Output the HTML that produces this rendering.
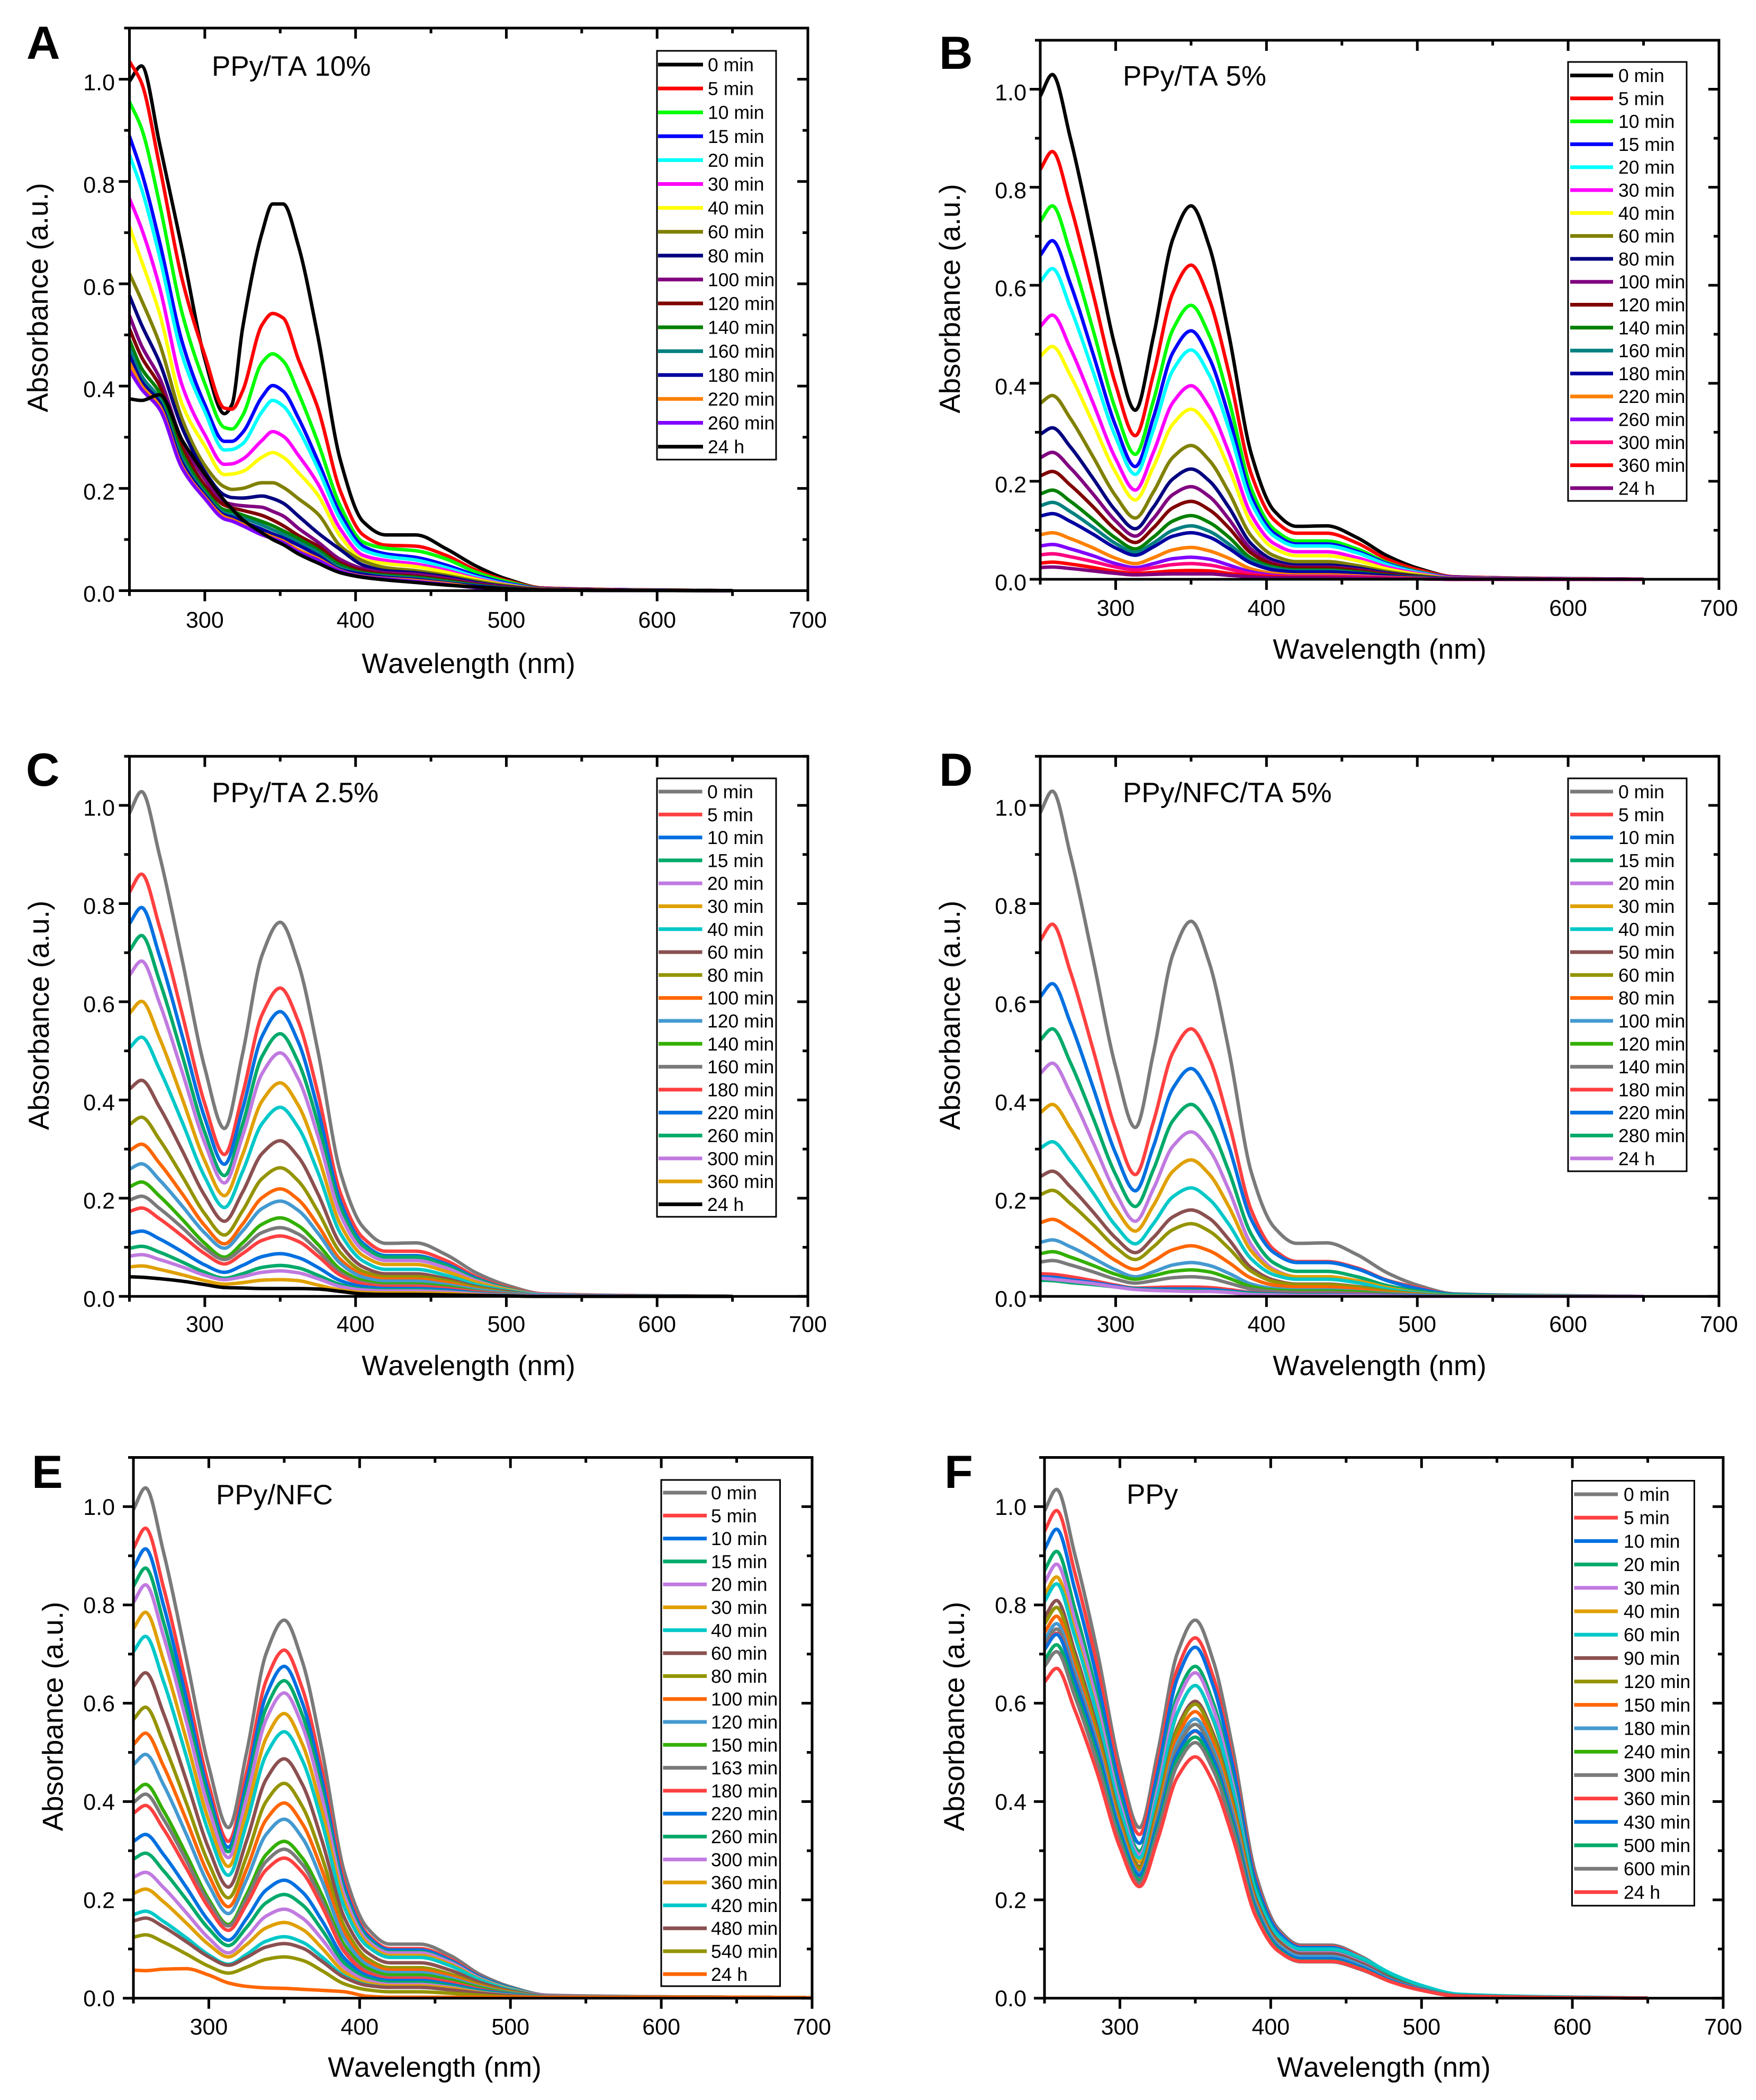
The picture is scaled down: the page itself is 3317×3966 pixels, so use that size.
<!DOCTYPE html>
<html lang="en">
<head>
<meta charset="utf-8">
<title>Absorbance spectra panels A-F</title>
<style>
html,body{margin:0;padding:0;background:#fff;}
svg{display:block;font-family:"Liberation Sans",Arial,sans-serif;font-kerning:none;text-rendering:geometricPrecision;}
</style>
</head>
<body>
<svg id="figure" xmlns="http://www.w3.org/2000/svg" width="3317" height="3966" viewBox="0 0 3317 3966">
<rect x="0" y="0" width="3317" height="3966" fill="#fff"/>
</svg>
<script>
const wavelengths=[250,258,270,285,300,313,325,338,350,362,375,390,405,420,440,460,480,500,525,650];
const wavelengthsA=[250,258,270,285,300,313,318,325,338,345,352,362,375,390,405,420,440,460,480,500,525,650];
const wavelengthsE=[250,258,270,285,300,313,325,338,350,362,375,390,405,420,440,460,480,500,525,650,700];
const xTickValues=[250,300,350,400,450,500,550,600,650,700];
const xTickLabels=[300,400,500,600,700];
const yTickValues=[0,0.1,0.2,0.3,0.4,0.5,0.6,0.7,0.8,0.9,1.0,1.1];
const yTickLabels=[0,0.2,0.4,0.6,0.8,1.0];

const labelsA=["0 min","5 min","10 min","15 min","20 min","30 min","40 min","60 min","80 min","100 min","120 min","140 min","160 min","180 min","220 min","260 min","24 h"];
const seriesA=[
[.996,1.026,.874,.667,.453,.346,.364,.512,.70,.756,.756,.675,.497,.254,.135,.109,.109,.082,.048,.023,.005,0],
[1.035,.993,.83,.608,.46,.357,.355,.39,.52,.542,.533,.453,.357,.194,.109,.089,.087,.069,.04,.02,.005,0],
[.956,.904,.756,.542,.405,.319,.316,.342,.446,.463,.449,.387,.29,.165,.095,.083,.078,.062,.036,.018,.004,0],
[.889,.819,.682,.486,.364,.292,.292,.309,.379,.401,.39,.338,.254,.15,.087,.072,.065,.05,.03,.015,.004,0],
[.852,.786,.653,.46,.35,.275,.276,.287,.35,.372,.361,.316,.239,.139,.08,.067,.06,.045,.027,.013,.003,0],
[.767,.708,.593,.401,.305,.247,.248,.257,.294,.311,.302,.265,.209,.12,.069,.059,.052,.04,.024,.012,.003,0],
[.712,.645,.542,.364,.283,.227,.228,.233,.261,.27,.261,.231,.187,.106,.061,.053,.047,.036,.022,.011,.003,0],
[.62,.568,.483,.335,.245,.203,.198,.2,.211,.211,.202,.18,.15,.087,.058,.045,.039,.03,.019,.01,.003,0],
[.577,.52,.446,.318,.233,.187,.182,.181,.185,.18,.171,.146,.113,.08,.05,.039,.035,.027,.016,.008,.002,0],
[.538,.479,.416,.293,.218,.173,.169,.166,.163,.155,.146,.122,.095,.061,.043,.035,.032,.024,.014,.007,.002,0],
[.512,.457,.401,.28,.206,.167,.162,.157,.147,.138,.127,.108,.087,.054,.039,.032,.028,.021,.012,.006,.002,0],
[.49,.435,.387,.268,.197,.158,.155,.148,.135,.127,.117,.102,.08,.05,.035,.03,.026,.019,.011,.005,.001,0],
[.475,.42,.375,.258,.191,.152,.148,.142,.128,.119,.11,.095,.075,.045,.033,.028,.024,.017,.01,.005,.001,0],
[.46,.409,.368,.25,.187,.148,.144,.135,.12,.111,.103,.089,.069,.041,.032,.026,.022,.015,.009,.004,.001,0],
[.446,.401,.361,.243,.183,.144,.139,.13,.113,.105,.097,.08,.063,.039,.028,.024,.02,.014,.007,.003,.001,0],
[.431,.394,.355,.239,.18,.14,.136,.127,.109,.102,.094,.076,.06,.038,.027,.023,.018,.012,.006,.003,.001,0],
[.375,.372,.383,.294,.228,.176,.16,.139,.113,.1,.09,.072,.054,.035,.026,.021,.016,.011,.007,.004,.001,0]
];

const labelsB=["0 min","5 min","10 min","15 min","20 min","30 min","40 min","60 min","80 min","100 min","120 min","140 min","160 min","180 min","220 min","260 min","300 min","360 min","24 h"];
const seriesB=[
[.986,1.03,.90,.69,.47,.345,.495,.695,.762,.68,.50,.255,.14,.108,.109,.085,.048,.023,.005,0],
[.836,.873,.763,.583,.397,.293,.418,.585,.641,.571,.422,.214,.121,.094,.094,.074,.041,.02,.005,0],
[.730,.762,.666,.509,.346,.255,.364,.510,.559,.498,.367,.184,.102,.078,.078,.062,.034,.016,.004,0],
[.661,.691,.603,.46,.313,.23,.33,.463,.507,.452,.333,.168,.094,.072,.072,.057,.032,.015,.004,0],
[.607,.634,.554,.424,.29,.214,.305,.427,.468,.417,.308,.156,.088,.068,.068,.054,.03,.014,.003,0],
[.516,.539,.471,.36,.246,.182,.259,.361,.395,.352,.259,.131,.073,.056,.056,.044,.025,.012,.003,0],
[.455,.475,.416,.318,.218,.162,.229,.317,.347,.31,.227,.114,.063,.048,.048,.038,.021,.01,.002,0],
[.359,.375,.328,.25,.17,.125,.178,.249,.273,.243,.178,.088,.048,.036,.036,.028,.016,.008,.002,0],
[.296,.309,.27,.206,.14,.103,.147,.205,.225,.201,.147,.072,.039,.029,.029,.023,.013,.006,.001,0],
[.248,.259,.227,.174,.119,.088,.124,.173,.189,.169,.123,.061,.033,.025,.025,.02,.011,.005,.001,0],
[.211,.22,.192,.148,.101,.075,.105,.146,.159,.142,.105,.053,.03,.023,.023,.018,.01,.005,.001,0],
[.174,.182,.159,.122,.084,.062,.086,.119,.13,.116,.086,.043,.025,.019,.019,.015,.008,.004,.001,0],
[.15,.157,.138,.106,.073,.055,.074,.1,.109,.098,.072,.037,.022,.017,.017,.013,.007,.004,.001,0],
[.129,.134,.118,.092,.064,.049,.066,.088,.095,.086,.063,.033,.019,.015,.015,.012,.007,.003,.001,0],
[.091,.095,.083,.064,.043,.032,.044,.06,.065,.058,.043,.021,.012,.009,.009,.007,.004,.002,0,0],
[.068,.071,.062,.048,.032,.024,.032,.042,.045,.041,.029,.015,.008,.006,.006,.005,.003,.001,0,0],
[.05,.052,.046,.036,.025,.019,.024,.03,.032,.029,.021,.011,.006,.005,.005,.004,.002,.001,0,0],
[.033,.035,.031,.024,.016,.012,.014,.017,.018,.017,.012,.007,.005,.004,.004,.003,.002,.001,0,0],
[.024,.025,.022,.017,.012,.009,.01,.011,.011,.011,.008,.005,.003,.003,.003,.002,.001,.001,0,0]
];

const labelsC=["0 min","5 min","10 min","15 min","20 min","30 min","40 min","60 min","80 min","100 min","120 min","140 min","160 min","180 min","220 min","260 min","300 min","360 min","24 h"];
const seriesC=[
[.984,1.028,.898,.685,.465,.342,.493,.695,.762,.678,.50,.252,.141,.108,.109,.085,.048,.023,.005,0],
[.823,.86,.752,.575,.392,.289,.411,.574,.628,.56,.414,.21,.119,.092,.092,.073,.04,.019,.005,0],
[.759,.792,.693,.531,.363,.269,.381,.53,.58,.518,.381,.192,.108,.083,.083,.066,.037,.017,.004,0],
[.704,.735,.642,.491,.334,.246,.35,.489,.535,.477,.353,.18,.103,.08,.08,.063,.035,.017,.004,0],
[.654,.683,.597,.457,.312,.231,.326,.454,.496,.443,.327,.166,.094,.073,.073,.058,.032,.015,.004,0],
[.576,.601,.526,.403,.276,.205,.288,.398,.435,.389,.287,.146,.083,.065,.065,.051,.029,.014,.003,0],
[.506,.528,.462,.355,.243,.181,.254,.352,.385,.344,.253,.128,.072,.055,.055,.043,.024,.012,.003,0],
[.422,.44,.385,.297,.205,.153,.212,.291,.317,.284,.209,.106,.06,.046,.046,.036,.02,.01,.002,0],
[.35,.365,.319,.245,.168,.125,.174,.24,.262,.235,.173,.089,.051,.04,.04,.032,.018,.008,.002,0],
[.297,.31,.271,.209,.144,.107,.147,.201,.219,.197,.145,.075,.044,.035,.035,.028,.015,.007,.002,0],
[.259,.27,.237,.184,.129,.098,.133,.179,.194,.175,.129,.067,.039,.031,.031,.024,.014,.007,.002,0],
[.223,.233,.204,.157,.108,.08,.109,.147,.16,.144,.106,.055,.032,.025,.025,.02,.011,.005,.001,0],
[.196,.204,.179,.14,.098,.075,.098,.13,.14,.127,.093,.048,.028,.022,.022,.017,.01,.005,.001,0],
[.173,.18,.158,.123,.087,.066,.087,.114,.123,.112,.082,.043,.025,.02,.02,.016,.009,.004,.001,0],
[.128,.133,.117,.091,.064,.049,.063,.081,.087,.079,.059,.032,.02,.016,.016,.013,.007,.003,.001,0],
[.098,.102,.09,.07,.049,.037,.046,.059,.063,.058,.043,.024,.015,.013,.013,.01,.006,.003,.001,0],
[.082,.085,.075,.06,.043,.034,.04,.049,.052,.048,.036,.02,.013,.011,.011,.009,.005,.002,.001,0],
[.06,.062,.055,.044,.032,.025,.028,.033,.034,.032,.023,.013,.008,.007,.007,.006,.003,.001,0,0],
[.04,.039,.036,.031,.024,.018,.017,.016,.016,.016,.015,.01,.005,.004,.004,.003,.002,.001,0,0]
];

const labelsD=["0 min","5 min","10 min","15 min","20 min","30 min","40 min","50 min","60 min","80 min","100 min","120 min","140 min","180 min","220 min","280 min","24 h"];
const seriesD=[
[.985,1.029,.899,.687,.467,.344,.495,.697,.764,.68,.502,.252,.141,.108,.109,.085,.048,.023,.005,0],
[.725,.758,.661,.503,.34,.248,.355,.497,.545,.486,.355,.175,.095,.071,.071,.058,.033,.018,.004,0],
[.61,.637,.557,.426,.291,.215,.305,.424,.464,.414,.306,.156,.089,.069,.069,.056,.032,.016,.004,0],
[.522,.545,.476,.364,.248,.183,.258,.358,.391,.349,.255,.126,.068,.051,.051,.04,.022,.011,.003,0],
[.454,.475,.414,.314,.211,.153,.219,.306,.335,.299,.217,.105,.055,.04,.04,.032,.018,.008,.002,0],
[.374,.391,.342,.262,.179,.133,.185,.255,.278,.249,.183,.092,.052,.04,.04,.032,.018,.008,.002,0],
[.302,.315,.275,.211,.144,.107,.148,.203,.221,.198,.147,.076,.044,.035,.035,.028,.015,.007,.002,0],
[.244,.255,.223,.172,.119,.089,.12,.162,.176,.159,.116,.058,.033,.025,.025,.02,.011,.005,.001,0],
[.207,.216,.189,.146,.1,.075,.101,.136,.148,.133,.098,.051,.03,.024,.024,.019,.011,.005,.001,0],
[.15,.157,.138,.106,.073,.055,.072,.095,.103,.093,.069,.037,.023,.019,.019,.015,.008,.004,.001,0],
[.11,.115,.101,.078,.054,.04,.05,.064,.069,.063,.047,.025,.016,.013,.013,.01,.006,.003,.001,0],
[.087,.091,.08,.063,.045,.035,.042,.051,.054,.05,.037,.02,.013,.011,.011,.009,.005,.002,.001,0],
[.07,.073,.064,.05,.035,.027,.032,.038,.04,.037,.027,.015,.01,.008,.008,.006,.004,.002,0,0],
[.046,.045,.04,.032,.023,.017,.018,.019,.019,.018,.014,.008,.006,.005,.005,.004,.002,.001,0,0],
[.04,.039,.034,.028,.021,.016,.015,.015,.015,.014,.011,.007,.005,.004,.004,.003,.002,.001,0,0],
[.033,.032,.028,.024,.019,.015,.013,.012,.012,.011,.009,.006,.004,.003,.003,.002,.001,0,0,0],
[.037,.035,.031,.026,.019,.014,.012,.011,.01,.01,.008,.004,.003,.002,.002,.002,.001,0,0,0]
];

const labelsE=["0 min","5 min","10 min","15 min","20 min","30 min","40 min","60 min","80 min","100 min","120 min","150 min","163 min","180 min","220 min","260 min","300 min","360 min","420 min","480 min","540 min","24 h"];
const seriesE=[
[.994,1.038,.907,.693,.471,.347,.499,.701,.769,.685,.505,.255,.143,.11,.11,.087,.048,.023,.006,.002,.001],
[.915,.956,.835,.638,.434,.319,.459,.646,.708,.63,.465,.235,.131,.101,.101,.08,.044,.021,.005,.002,.001],
[.875,.914,.799,.61,.416,.307,.439,.616,.675,.601,.444,.225,.127,.098,.098,.077,.043,.021,.005,.002,.001],
[.838,.875,.765,.586,.402,.298,.423,.59,.646,.576,.425,.215,.122,.094,.094,.074,.041,.02,.005,.002,.001],
[.805,.841,.736,.564,.386,.286,.407,.567,.621,.554,.409,.208,.118,.092,.092,.073,.04,.019,.005,.002,.001],
[.752,.785,.687,.527,.361,.268,.38,.529,.579,.517,.382,.195,.112,.087,.087,.069,.038,.018,.004,.002,.001],
[.705,.736,.644,.493,.337,.25,.355,.495,.542,.484,.358,.184,.106,.083,.083,.066,.037,.017,.004,.002,.001],
[.634,.662,.579,.444,.304,.226,.32,.445,.487,.435,.321,.163,.093,.072,.072,.057,.032,.015,.004,.002,.001],
[.567,.592,.518,.398,.274,.204,.288,.4,.437,.39,.287,.145,.081,.062,.062,.049,.027,.013,.003,.002,.001],
[.516,.539,.472,.363,.25,.186,.262,.363,.397,.355,.261,.132,.074,.057,.057,.045,.025,.012,.003,.002,.001],
[.475,.496,.434,.334,.23,.172,.241,.333,.364,.326,.239,.121,.068,.052,.052,.041,.023,.011,.003,.002,.001],
[.417,.435,.381,.293,.201,.15,.211,.292,.319,.285,.21,.107,.061,.047,.047,.037,.021,.01,.002,.002,.001],
[.398,.415,.364,.281,.195,.147,.203,.278,.303,.272,.199,.099,.055,.042,.042,.033,.018,.009,.002,.002,.001],
[.376,.392,.344,.265,.184,.138,.191,.261,.285,.256,.187,.094,.052,.04,.04,.032,.018,.008,.002,.002,.001],
[.319,.333,.292,.226,.157,.118,.162,.22,.24,.216,.158,.081,.046,.036,.036,.028,.016,.008,.002,.002,.001],
[.283,.295,.259,.201,.141,.107,.144,.194,.211,.19,.139,.071,.041,.032,.032,.025,.014,.007,.002,.002,.001],
[.246,.256,.225,.174,.122,.092,.124,.167,.181,.163,.12,.062,.036,.028,.028,.022,.012,.006,.001,.002,.001],
[.213,.222,.196,.153,.109,.084,.109,.143,.154,.14,.102,.053,.031,.025,.025,.02,.011,.005,.001,.002,.001],
[.17,.177,.156,.123,.088,.069,.089,.116,.125,.114,.084,.045,.027,.022,.022,.017,.01,.005,.001,.002,.001],
[.157,.163,.145,.115,.084,.067,.083,.104,.111,.102,.075,.042,.026,.022,.022,.017,.01,.005,.001,.002,.001],
[.124,.129,.114,.09,.065,.051,.063,.079,.084,.077,.056,.029,.017,.013,.013,.01,.006,.003,.001,.002,.001],
[.057,.056,.059,.06,.047,.031,.024,.021,.02,.018,.016,.013,.004,.002,.002,.002,.002,.002,.002,.002,.001]
];

const labelsF=["0 min","5 min","10 min","20 min","30 min","40 min","60 min","90 min","120 min","150 min","180 min","240 min","300 min","360 min","430 min","500 min","600 min","24 h"];
const seriesF=[
[.991,1.035,.904,.705,.471,.347,.499,.701,.769,.685,.505,.253,.141,.108,.108,.085,.048,.023,.005,0],
[.95,.992,.867,.676,.452,.333,.477,.669,.733,.653,.482,.243,.136,.105,.105,.083,.046,.022,.005,0],
[.913,.954,.833,.647,.43,.315,.459,.65,.714,.634,.47,.237,.134,.103,.103,.081,.045,.022,.005,0],
[.87,.909,.793,.616,.409,.299,.434,.615,.675,.6,.444,.225,.127,.098,.098,.077,.043,.021,.005,0],
[.845,.883,.771,.599,.398,.292,.425,.603,.662,.588,.434,.217,.121,.092,.092,.073,.04,.019,.005,0],
[.82,.857,.747,.579,.381,.277,.406,.579,.636,.564,.418,.21,.117,.09,.09,.071,.04,.019,.005,0],
[.807,.843,.737,.575,.385,.285,.411,.58,.636,.566,.422,.218,.127,.1,.1,.082,.05,.026,.008,0],
[.774,.809,.706,.549,.365,.268,.389,.55,.604,.537,.398,.203,.116,.09,.09,.071,.04,.019,.005,0],
[.761,.795,.694,.541,.36,.265,.385,.545,.598,.531,.393,.198,.111,.085,.085,.067,.037,.018,.004,0],
[.744,.777,.678,.528,.351,.258,.375,.531,.583,.518,.384,.195,.11,.085,.085,.067,.037,.018,.004,0],
[.729,.762,.665,.518,.345,.254,.367,.518,.568,.505,.375,.191,.109,.085,.085,.067,.037,.018,.004,0],
[.711,.742,.649,.506,.339,.25,.361,.508,.557,.496,.366,.185,.104,.08,.08,.063,.035,.017,.004,0],
[.719,.751,.656,.51,.339,.249,.36,.508,.557,.495,.366,.185,.104,.08,.08,.063,.035,.017,.004,0],
[.71,.742,.648,.504,.336,.247,.354,.496,.543,.484,.357,.18,.101,.078,.078,.062,.034,.016,.004,0],
[.709,.74,.647,.505,.338,.25,.356,.497,.544,.485,.358,.182,.103,.08,.08,.063,.035,.017,.004,0],
[.688,.719,.628,.49,.327,.241,.345,.485,.531,.473,.349,.176,.099,.076,.076,.06,.033,.016,.004,0],
[.675,.705,.615,.479,.319,.234,.337,.474,.52,.463,.342,.172,.096,.074,.074,.058,.033,.016,.004,0],
[.643,.671,.587,.458,.307,.227,.322,.449,.491,.438,.325,.167,.096,.075,.075,.059,.033,.016,.004,0]
];

const classicPalette=["#000000","#ff0000","#00ff00","#0000ff","#00ffff","#ff00ff","#ffff00","#808000","#000080","#800080","#800000","#008000","#008080","#0000a0","#ff8000","#8000ff"];
const softPalette=["#7a7a7a","#ff4040","#0070e0","#00aa6a","#c07ae0","#e0a000","#00c8c8","#8b5050","#949400","#ff6600","#4499d0","#33b000"];
const colorsA=classicPalette.concat(["#000000"]);
const colorsB=classicPalette.concat(["#ff0080","#ff0000","#800080"]);
const softCycle=softPalette.concat(softPalette);
const colorsC=softCycle.slice(0,18).concat(["#000000"]);
const colorsD=softCycle.slice(0,17);
const colorsE=softCycle.slice(0,22);
const colorsF=softCycle.slice(0,16).concat(["#7a7a7a","#ff4040"]);

const panels=[
 {id:"a",letter:"A",lx:50,ly:111,title:"PPy/TA 10%",tx:400,ty:143,left:244.5,right:1526,bottom:1115.5,top:53,ylx:72,yly:562,xlc:885,xly:1271,ytr:217,ylOff:21,xlOff:70,
  wl:wavelengthsA,labels:labelsA,series:seriesA,colors:colorsA,box:[1241,96,1466,868],row0:122,rowH:45.1,lineX:[1243,1328],textX:1337},
 {id:"b",letter:"B",lx:1774,ly:130,title:"PPy/TA 5%",tx:2121,ty:161.5,left:1965,right:3247,bottom:1094,top:76,ylx:1795,yly:564,xlc:2606,xly:1244,ytr:1939,ylOff:21,xlOff:69,
  wl:wavelengths,labels:labelsB,series:seriesB,colors:colorsB,box:[2962,117,3186,946],row0:142.5,rowH:43.3,lineX:[2966,3047],textX:3057},
 {id:"c",letter:"C",lx:49,ly:1484,title:"PPy/TA 2.5%",tx:400,ty:1515,left:244.5,right:1526,bottom:2448.3,top:1428.3,ylx:74,yly:1917.5,xlc:885,xly:2597,ytr:217,ylOff:19.5,xlOff:67,
  wl:wavelengths,labels:labelsC,series:seriesC,colors:colorsC,box:[1241,1470,1466,2298],row0:1495,rowH:43.3,lineX:[1244,1326.5],textX:1336},
 {id:"d",letter:"D",lx:1774,ly:1484,title:"PPy/NFC/TA 5%",tx:2121,ty:1515,left:1965,right:3247,bottom:2448.3,top:1428.3,ylx:1795,yly:1917.5,xlc:2606,xly:2597,ytr:1939,ylOff:19.5,xlOff:67,
  wl:wavelengths,labels:labelsD,series:seriesD,colors:colorsD,box:[2962,1470,3186,2212],row0:1495,rowH:43.3,lineX:[2966,3047],textX:3057},
 {id:"e",letter:"E",lx:60,ly:2810,title:"PPy/NFC",tx:408,ty:2841,left:252,right:1534,bottom:3773.7,top:2752.5,ylx:100.5,yly:3241.6,xlc:821,xly:3922,ytr:217,ylOff:15.5,xlOff:69,
  wl:wavelengthsE,labels:labelsE,series:seriesE,colors:colorsE,box:[1249,2795,1473.5,3751],row0:2819,rowH:43.3,lineX:[1252.4,1335],textX:1343},
 {id:"f",letter:"F",lx:1784,ly:2810,title:"PPy",tx:2128,ty:2840,left:1973,right:3255,bottom:3773.7,top:2752.5,ylx:1803,yly:3241.6,xlc:2614,xly:3922,ytr:1939,ylOff:15.5,xlOff:69,
  wl:wavelengths,labels:labelsF,series:seriesF,colors:colorsF,box:[2969.5,2796.5,3200.5,3599],row0:2822,rowH:44.2,lineX:[2973.5,3056],textX:3067}
];

const NS="http://www.w3.org/2000/svg";
const root=document.getElementById("figure");

function makeEl(tag,attrs,parent){
  const el=document.createElementNS(NS,tag);
  for(const k in attrs){el.setAttribute(k,attrs[k]);}
  parent.appendChild(el);
  return el;
}
function fmt(n){return Math.round(n*100)/100;}

/* monotone cubic path through mapped points */
function monotonePath(xs,ys){
  const n=xs.length,dx=[],m=[],t=[];
  for(let i=0;i<n-1;i++){dx[i]=xs[i+1]-xs[i];m[i]=(ys[i+1]-ys[i])/dx[i];}
  t[0]=m[0];t[n-1]=m[n-2];
  for(let i=1;i<n-1;i++){
    if(m[i-1]*m[i]<=0){t[i]=0;}
    else{
      const w1=2*dx[i]+dx[i-1],w2=dx[i]+2*dx[i-1];
      t[i]=(w1+w2)/(w1/m[i-1]+w2/m[i]);
    }
  }
  let d="M"+fmt(xs[0])+" "+fmt(ys[0]);
  for(let i=0;i<n-1;i++){
    const h=dx[i]/3;
    d+="C"+fmt(xs[i]+h)+" "+fmt(ys[i]+t[i]*h)+" "+fmt(xs[i+1]-h)+" "+fmt(ys[i+1]-t[i+1]*h)+" "+fmt(xs[i+1])+" "+fmt(ys[i+1]);
  }
  return d;
}

panels.forEach(function(p){
  const xScale=function(v){return p.left+(v-250)*(p.right-p.left)/450;};
  const yScale=function(v){return p.bottom-v*(p.bottom-p.top)/1.1;};

  const g=makeEl("g",{},root);
  
  

  /* curves */
  const curves=makeEl("g",{fill:"none","stroke-width":"6.5","stroke-linejoin":"round","stroke-linecap":"butt"},g);
  
  
  p.series.forEach(function(vals,i){
    const xs=p.wl.map(xScale);
    const ys=vals.map(yScale);
    const path=makeEl("path",{d:monotonePath(xs,ys),stroke:p.colors[i]},curves);
    
    
  });

  /* frame */
  const frame=makeEl("rect",{x:p.left,y:p.top,width:p.right-p.left,height:p.bottom-p.top,fill:"none",stroke:"#000","stroke-width":"5"},g);
  
  

  /* x ticks */
  xTickValues.forEach(function(v){
    const major=(v%100===0);
    const len=major?20:10;
    const x=xScale(v);
    const b=makeEl("line",{x1:x,x2:x,y1:p.bottom,y2:p.bottom+len,stroke:"#000","stroke-width":"5"},g);
    
    
    const t=makeEl("line",{x1:x,x2:x,y1:p.top,y2:p.top+len,stroke:"#000","stroke-width":"5"},g);
    
    
  });
  xTickLabels.forEach(function(v){
    const t=makeEl("text",{x:xScale(v),y:p.bottom+p.xlOff,"font-size":"43","text-anchor":"middle",fill:"#000"},g);
    t.textContent=String(v);
    
    
  });

  /* y ticks */
  yTickValues.forEach(function(v,i){
    const major=(i%2===0);
    const len=major?20:10;
    const y=yScale(v);
    const l=makeEl("line",{x1:p.left-len,x2:p.left,y1:y,y2:y,stroke:"#000","stroke-width":"5"},g);
    
    
    const r=makeEl("line",{x1:p.right-len,x2:p.right,y1:y,y2:y,stroke:"#000","stroke-width":"5"},g);
    
    
  });
  yTickLabels.forEach(function(v){
    const t=makeEl("text",{x:p.ytr,y:yScale(v)+p.ylOff,"font-size":"43","text-anchor":"end",fill:"#000"},g);
    t.textContent=v.toFixed(1);
    
    
  });

  /* axis titles */
  const xt=makeEl("text",{x:p.xlc,y:p.xly,"font-size":"53","text-anchor":"middle",fill:"#000"},g);
  xt.textContent="Wavelength (nm)";
  
  
  const yt=makeEl("text",{transform:"translate("+(p.ylx+18)+" "+p.yly+") rotate(-90)","font-size":"54.5","text-anchor":"middle",fill:"#000"},g);
  yt.textContent="Absorbance (a.u.)";
  
  

  /* panel letter + title */
  const letter=makeEl("text",{x:p.lx,y:p.ly,"font-size":"88","font-weight":"700",fill:"#000"},g);
  letter.textContent=p.letter;
  
  
  const title=makeEl("text",{x:p.tx,y:p.ty,"font-size":"53",fill:"#000"},g);
  title.textContent=p.title;
  
  

  /* legend */
  const leg=makeEl("g",{},g);
  
  
  const box=makeEl("rect",{x:p.box[0],y:p.box[1],width:p.box[2]-p.box[0],height:p.box[3]-p.box[1],fill:"#fff",stroke:"#000","stroke-width":"3"},leg);
  
  
  p.labels.forEach(function(lab,i){
    const y=p.row0+i*p.rowH;
    const sw=makeEl("line",{x1:p.lineX[0],x2:p.lineX[1],y1:y,y2:y,stroke:p.colors[i],"stroke-width":"7"},leg);
    
    
    const tx=makeEl("text",{x:p.textX,y:y+12.5,"font-size":"35.5",fill:"#000"},leg);
    tx.textContent=lab;
    
    
  });
});
</script>
</body>
</html>
